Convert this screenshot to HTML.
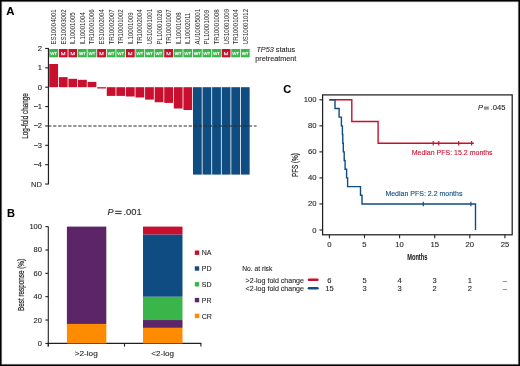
<!DOCTYPE html>
<html><head><meta charset="utf-8"><style>
html,body{margin:0;padding:0;background:#fff;}
body{width:520px;height:366px;overflow:hidden;position:relative;}
svg{position:absolute;left:0;top:0;display:block;will-change:transform;}
svg text{font-family:"Liberation Sans", sans-serif;}
</style></head><body>
<svg width="520" height="366" viewBox="0 0 520 366">
<rect x="0" y="0" width="520" height="366" fill="#fff"/>
<text x="6.30" y="15.00" font-size="11.4" text-anchor="start" fill="#000" stroke="#000" stroke-width="0.1" font-weight="bold" font-style="normal" >A</text>
<text transform="translate(56.16,44.6) rotate(-90) scale(0.915,1)" x="0" y="0" font-size="6.7" fill="#231F20">ES10004001</text>
<text transform="translate(65.74,44.6) rotate(-90) scale(0.915,1)" x="0" y="0" font-size="6.7" fill="#231F20">ES10003002</text>
<text transform="translate(75.32,44.6) rotate(-90) scale(0.915,1)" x="0" y="0" font-size="6.7" fill="#231F20">IL10001005</text>
<text transform="translate(84.90,44.6) rotate(-90) scale(0.915,1)" x="0" y="0" font-size="6.7" fill="#231F20">IL10001004</text>
<text transform="translate(94.48,44.6) rotate(-90) scale(0.915,1)" x="0" y="0" font-size="6.7" fill="#231F20">TR10001006</text>
<text transform="translate(104.06,44.6) rotate(-90) scale(0.915,1)" x="0" y="0" font-size="6.7" fill="#231F20">ES10002004</text>
<text transform="translate(113.64,44.6) rotate(-90) scale(0.915,1)" x="0" y="0" font-size="6.7" fill="#231F20">TR10002007</text>
<text transform="translate(123.22,44.6) rotate(-90) scale(0.915,1)" x="0" y="0" font-size="6.7" fill="#231F20">TR10001002</text>
<text transform="translate(132.80,44.6) rotate(-90) scale(0.915,1)" x="0" y="0" font-size="6.7" fill="#231F20">IL10001009</text>
<text transform="translate(142.38,44.6) rotate(-90) scale(0.915,1)" x="0" y="0" font-size="6.7" fill="#231F20">TR10002004</text>
<text transform="translate(151.96,44.6) rotate(-90) scale(0.915,1)" x="0" y="0" font-size="6.7" fill="#231F20">US10001001</text>
<text transform="translate(161.54,44.6) rotate(-90) scale(0.915,1)" x="0" y="0" font-size="6.7" fill="#231F20">PL10001026</text>
<text transform="translate(171.12,44.6) rotate(-90) scale(0.915,1)" x="0" y="0" font-size="6.7" fill="#231F20">TR10001007</text>
<text transform="translate(180.70,44.6) rotate(-90) scale(0.915,1)" x="0" y="0" font-size="6.7" fill="#231F20">IL10001008</text>
<text transform="translate(190.28,44.6) rotate(-90) scale(0.915,1)" x="0" y="0" font-size="6.7" fill="#231F20">IL10002011</text>
<text transform="translate(199.86,44.6) rotate(-90) scale(0.915,1)" x="0" y="0" font-size="6.7" fill="#231F20">AU10005001</text>
<text transform="translate(209.44,44.6) rotate(-90) scale(0.915,1)" x="0" y="0" font-size="6.7" fill="#231F20">PL10001009</text>
<text transform="translate(219.02,44.6) rotate(-90) scale(0.915,1)" x="0" y="0" font-size="6.7" fill="#231F20">TR10001008</text>
<text transform="translate(228.60,44.6) rotate(-90) scale(0.915,1)" x="0" y="0" font-size="6.7" fill="#231F20">US10001009</text>
<text transform="translate(238.18,44.6) rotate(-90) scale(0.915,1)" x="0" y="0" font-size="6.7" fill="#231F20">TR10001004</text>
<text transform="translate(247.76,44.6) rotate(-90) scale(0.915,1)" x="0" y="0" font-size="6.7" fill="#231F20">US10001012</text>
<rect x="49.27" y="49.00" width="8.78" height="8.30" fill="#3AB54A" />
<path d="M50.52,52.1 L51.37,55.1 L52.35,52.1 L53.32,55.1 L54.17,52.1 M54.42,52.4 L56.87,52.4 M55.65,52.4 L55.65,55.2" fill="none" stroke="#fff" stroke-width="0.8" stroke-linejoin="bevel"/>
<rect x="58.85" y="49.00" width="8.78" height="8.30" fill="#C8102E" />
<path d="M61.55,55.2 L61.55,52.0 L63.15,55.2 L64.75,52.0 L64.75,55.2" fill="none" stroke="#fff" stroke-width="0.8" stroke-linejoin="bevel"/>
<rect x="68.43" y="49.00" width="8.78" height="8.30" fill="#C8102E" />
<path d="M71.13,55.2 L71.13,52.0 L72.73,55.2 L74.33,52.0 L74.33,55.2" fill="none" stroke="#fff" stroke-width="0.8" stroke-linejoin="bevel"/>
<rect x="78.01" y="49.00" width="8.78" height="8.30" fill="#3AB54A" />
<path d="M79.26,52.1 L80.11,55.1 L81.09,52.1 L82.06,55.1 L82.91,52.1 M83.16,52.4 L85.61,52.4 M84.39,52.4 L84.39,55.2" fill="none" stroke="#fff" stroke-width="0.8" stroke-linejoin="bevel"/>
<rect x="87.59" y="49.00" width="8.78" height="8.30" fill="#3AB54A" />
<path d="M88.84,52.1 L89.69,55.1 L90.67,52.1 L91.64,55.1 L92.49,52.1 M92.74,52.4 L95.19,52.4 M93.97,52.4 L93.97,55.2" fill="none" stroke="#fff" stroke-width="0.8" stroke-linejoin="bevel"/>
<rect x="97.17" y="49.00" width="8.78" height="8.30" fill="#C8102E" />
<path d="M99.87,55.2 L99.87,52.0 L101.47,55.2 L103.07,52.0 L103.07,55.2" fill="none" stroke="#fff" stroke-width="0.8" stroke-linejoin="bevel"/>
<rect x="106.75" y="49.00" width="8.78" height="8.30" fill="#3AB54A" />
<path d="M108.00,52.1 L108.85,55.1 L109.83,52.1 L110.80,55.1 L111.65,52.1 M111.90,52.4 L114.35,52.4 M113.13,52.4 L113.13,55.2" fill="none" stroke="#fff" stroke-width="0.8" stroke-linejoin="bevel"/>
<rect x="116.33" y="49.00" width="8.78" height="8.30" fill="#3AB54A" />
<path d="M117.58,52.1 L118.43,55.1 L119.41,52.1 L120.38,55.1 L121.23,52.1 M121.48,52.4 L123.93,52.4 M122.71,52.4 L122.71,55.2" fill="none" stroke="#fff" stroke-width="0.8" stroke-linejoin="bevel"/>
<rect x="125.91" y="49.00" width="8.78" height="8.30" fill="#C8102E" />
<path d="M128.61,55.2 L128.61,52.0 L130.21,55.2 L131.81,52.0 L131.81,55.2" fill="none" stroke="#fff" stroke-width="0.8" stroke-linejoin="bevel"/>
<rect x="135.49" y="49.00" width="8.78" height="8.30" fill="#3AB54A" />
<path d="M136.74,52.1 L137.59,55.1 L138.57,52.1 L139.54,55.1 L140.39,52.1 M140.64,52.4 L143.09,52.4 M141.87,52.4 L141.87,55.2" fill="none" stroke="#fff" stroke-width="0.8" stroke-linejoin="bevel"/>
<rect x="145.07" y="49.00" width="8.78" height="8.30" fill="#3AB54A" />
<path d="M146.32,52.1 L147.17,55.1 L148.15,52.1 L149.12,55.1 L149.97,52.1 M150.22,52.4 L152.67,52.4 M151.45,52.4 L151.45,55.2" fill="none" stroke="#fff" stroke-width="0.8" stroke-linejoin="bevel"/>
<rect x="154.65" y="49.00" width="8.78" height="8.30" fill="#3AB54A" />
<path d="M155.90,52.1 L156.75,55.1 L157.73,52.1 L158.70,55.1 L159.55,52.1 M159.80,52.4 L162.25,52.4 M161.03,52.4 L161.03,55.2" fill="none" stroke="#fff" stroke-width="0.8" stroke-linejoin="bevel"/>
<rect x="164.23" y="49.00" width="8.78" height="8.30" fill="#C8102E" />
<path d="M166.93,55.2 L166.93,52.0 L168.53,55.2 L170.13,52.0 L170.13,55.2" fill="none" stroke="#fff" stroke-width="0.8" stroke-linejoin="bevel"/>
<rect x="173.81" y="49.00" width="8.78" height="8.30" fill="#3AB54A" />
<path d="M175.06,52.1 L175.91,55.1 L176.89,52.1 L177.86,55.1 L178.71,52.1 M178.96,52.4 L181.41,52.4 M180.19,52.4 L180.19,55.2" fill="none" stroke="#fff" stroke-width="0.8" stroke-linejoin="bevel"/>
<rect x="183.39" y="49.00" width="8.78" height="8.30" fill="#3AB54A" />
<path d="M184.64,52.1 L185.49,55.1 L186.47,52.1 L187.44,55.1 L188.29,52.1 M188.54,52.4 L190.99,52.4 M189.77,52.4 L189.77,55.2" fill="none" stroke="#fff" stroke-width="0.8" stroke-linejoin="bevel"/>
<rect x="192.97" y="49.00" width="8.78" height="8.30" fill="#3AB54A" />
<path d="M194.22,52.1 L195.07,55.1 L196.05,52.1 L197.02,55.1 L197.87,52.1 M198.12,52.4 L200.57,52.4 M199.35,52.4 L199.35,55.2" fill="none" stroke="#fff" stroke-width="0.8" stroke-linejoin="bevel"/>
<rect x="202.55" y="49.00" width="8.78" height="8.30" fill="#3AB54A" />
<path d="M203.80,52.1 L204.65,55.1 L205.63,52.1 L206.60,55.1 L207.45,52.1 M207.70,52.4 L210.15,52.4 M208.93,52.4 L208.93,55.2" fill="none" stroke="#fff" stroke-width="0.8" stroke-linejoin="bevel"/>
<rect x="212.13" y="49.00" width="8.78" height="8.30" fill="#3AB54A" />
<path d="M213.38,52.1 L214.23,55.1 L215.21,52.1 L216.18,55.1 L217.03,52.1 M217.28,52.4 L219.73,52.4 M218.51,52.4 L218.51,55.2" fill="none" stroke="#fff" stroke-width="0.8" stroke-linejoin="bevel"/>
<rect x="221.71" y="49.00" width="8.78" height="8.30" fill="#C8102E" />
<path d="M224.41,55.2 L224.41,52.0 L226.01,55.2 L227.61,52.0 L227.61,55.2" fill="none" stroke="#fff" stroke-width="0.8" stroke-linejoin="bevel"/>
<rect x="231.29" y="49.00" width="8.78" height="8.30" fill="#3AB54A" />
<path d="M232.54,52.1 L233.39,55.1 L234.37,52.1 L235.34,55.1 L236.19,52.1 M236.44,52.4 L238.89,52.4 M237.67,52.4 L237.67,55.2" fill="none" stroke="#fff" stroke-width="0.8" stroke-linejoin="bevel"/>
<rect x="240.87" y="49.00" width="8.78" height="8.30" fill="#3AB54A" />
<path d="M242.12,52.1 L242.97,55.1 L243.95,52.1 L244.92,55.1 L245.77,52.1 M246.02,52.4 L248.47,52.4 M247.25,52.4 L247.25,55.2" fill="none" stroke="#fff" stroke-width="0.8" stroke-linejoin="bevel"/>
<rect x="49.27" y="64.00" width="8.78" height="23.20" fill="#C8102E" />
<rect x="58.85" y="77.10" width="8.78" height="10.10" fill="#C8102E" />
<rect x="68.43" y="78.80" width="8.78" height="8.40" fill="#C8102E" />
<rect x="78.01" y="79.80" width="8.78" height="7.40" fill="#C8102E" />
<rect x="87.59" y="81.90" width="8.78" height="5.30" fill="#C8102E" />
<rect x="97.17" y="87.20" width="8.78" height="1.30" fill="#C8102E" />
<rect x="106.75" y="87.20" width="8.78" height="8.70" fill="#C8102E" />
<rect x="116.33" y="87.20" width="8.78" height="8.70" fill="#C8102E" />
<rect x="125.91" y="87.20" width="8.78" height="9.30" fill="#C8102E" />
<rect x="135.49" y="87.20" width="8.78" height="10.30" fill="#C8102E" />
<rect x="145.07" y="87.20" width="8.78" height="12.40" fill="#C8102E" />
<rect x="154.65" y="87.20" width="8.78" height="15.05" fill="#C8102E" />
<rect x="164.23" y="87.20" width="8.78" height="15.70" fill="#C8102E" />
<rect x="173.81" y="87.20" width="8.78" height="21.30" fill="#C8102E" />
<rect x="183.39" y="87.20" width="8.78" height="22.80" fill="#C8102E" />
<rect x="192.97" y="87.20" width="8.78" height="87.40" fill="#0F4C81" />
<rect x="202.55" y="87.20" width="8.78" height="87.40" fill="#0F4C81" />
<rect x="212.13" y="87.20" width="8.78" height="87.40" fill="#0F4C81" />
<rect x="221.71" y="87.20" width="8.78" height="87.40" fill="#0F4C81" />
<rect x="231.29" y="87.20" width="8.78" height="87.40" fill="#0F4C81" />
<rect x="240.87" y="87.20" width="8.78" height="87.40" fill="#0F4C81" />
<line x1="48.45" y1="48.40" x2="48.45" y2="184.00" stroke="#231F20" stroke-width="1.2" />
<line x1="45.20" y1="48.46" x2="48.90" y2="48.46" stroke="#231F20" stroke-width="1.1" />
<text transform="translate(42.00,50.96) scale(1.08,1)" x="0" y="0" font-size="7" text-anchor="end" fill="#231F20" stroke="#231F20" stroke-width="0.1" font-weight="normal" font-style="normal" >2</text>
<line x1="45.20" y1="67.83" x2="48.90" y2="67.83" stroke="#231F20" stroke-width="1.1" />
<text transform="translate(42.00,70.33) scale(1.08,1)" x="0" y="0" font-size="7" text-anchor="end" fill="#231F20" stroke="#231F20" stroke-width="0.1" font-weight="normal" font-style="normal" >1</text>
<line x1="45.20" y1="87.20" x2="48.90" y2="87.20" stroke="#231F20" stroke-width="1.1" />
<text transform="translate(42.00,89.70) scale(1.08,1)" x="0" y="0" font-size="7" text-anchor="end" fill="#231F20" stroke="#231F20" stroke-width="0.1" font-weight="normal" font-style="normal" >0</text>
<line x1="45.20" y1="106.57" x2="48.90" y2="106.57" stroke="#231F20" stroke-width="1.1" />
<text transform="translate(42.00,109.07) scale(1.08,1)" x="0" y="0" font-size="7" text-anchor="end" fill="#231F20" stroke="#231F20" stroke-width="0.1" font-weight="normal" font-style="normal" >−1</text>
<line x1="45.20" y1="125.94" x2="48.90" y2="125.94" stroke="#231F20" stroke-width="1.1" />
<text transform="translate(42.00,128.44) scale(1.08,1)" x="0" y="0" font-size="7" text-anchor="end" fill="#231F20" stroke="#231F20" stroke-width="0.1" font-weight="normal" font-style="normal" >−2</text>
<line x1="45.20" y1="145.31" x2="48.90" y2="145.31" stroke="#231F20" stroke-width="1.1" />
<text transform="translate(42.00,147.81) scale(1.08,1)" x="0" y="0" font-size="7" text-anchor="end" fill="#231F20" stroke="#231F20" stroke-width="0.1" font-weight="normal" font-style="normal" >−3</text>
<line x1="45.20" y1="164.68" x2="48.90" y2="164.68" stroke="#231F20" stroke-width="1.1" />
<text transform="translate(42.00,167.18) scale(1.08,1)" x="0" y="0" font-size="7" text-anchor="end" fill="#231F20" stroke="#231F20" stroke-width="0.1" font-weight="normal" font-style="normal" >−4</text>
<line x1="45.20" y1="184.05" x2="48.90" y2="184.05" stroke="#231F20" stroke-width="1.1" />
<text transform="translate(42.00,186.55) scale(1.08,1)" x="0" y="0" font-size="7" text-anchor="end" fill="#231F20" stroke="#231F20" stroke-width="0.1" font-weight="normal" font-style="normal" >ND</text>
<line x1="48.10" y1="126.00" x2="256.60" y2="126.00" stroke="#2a2a2a" stroke-width="1.2" stroke-dasharray="3.3 1.72"/>
<text transform="translate(27.90,115.95) rotate(-90)" x="0" y="0" font-size="9" text-anchor="middle" fill="#231F20" stroke="#231F20" stroke-width="0.22" textLength="45.5" lengthAdjust="spacingAndGlyphs">Log-fold change</text>
<text transform="translate(275.8,51.75) scale(0.97,1)" x="0" y="0" font-size="7.5" text-anchor="middle" fill="#231F20" stroke="#231F20" stroke-width="0.1"><tspan font-style="italic">TP53</tspan> status</text>
<text x="275.80" y="60.70" font-size="7.25" text-anchor="middle" fill="#231F20" stroke="#231F20" stroke-width="0.1" font-weight="normal" font-style="normal" >pretreatment</text>
<text x="7.00" y="217.00" font-size="11" text-anchor="start" fill="#000" stroke="#000" stroke-width="0.1" font-weight="bold" font-style="normal" >B</text>
<text x="107.5" y="214.9" font-size="9" font-style="italic" fill="#231F20" stroke="#231F20" stroke-width="0.1">P</text>
<line x1="115.20" y1="211.30" x2="121.60" y2="211.30" stroke="#231F20" stroke-width="0.95" />
<line x1="115.20" y1="213.60" x2="121.60" y2="213.60" stroke="#231F20" stroke-width="0.95" />
<text transform="translate(123.40,214.90) scale(1.05,1)" x="0" y="0" font-size="9" text-anchor="start" fill="#231F20" stroke="#231F20" stroke-width="0.1" font-weight="normal" font-style="normal" >.001</text>
<line x1="48.30" y1="226.60" x2="48.30" y2="346.60" stroke="#231F20" stroke-width="1.1" />
<line x1="45.40" y1="343.40" x2="48.30" y2="343.40" stroke="#231F20" stroke-width="1.1" />
<text transform="translate(42.00,345.90) scale(1.08,1)" x="0" y="0" font-size="7" text-anchor="end" fill="#231F20" stroke="#231F20" stroke-width="0.1" font-weight="normal" font-style="normal" >0</text>
<line x1="45.40" y1="320.04" x2="48.30" y2="320.04" stroke="#231F20" stroke-width="1.1" />
<text transform="translate(42.00,322.54) scale(1.08,1)" x="0" y="0" font-size="7" text-anchor="end" fill="#231F20" stroke="#231F20" stroke-width="0.1" font-weight="normal" font-style="normal" >20</text>
<line x1="45.40" y1="296.68" x2="48.30" y2="296.68" stroke="#231F20" stroke-width="1.1" />
<text transform="translate(42.00,299.18) scale(1.08,1)" x="0" y="0" font-size="7" text-anchor="end" fill="#231F20" stroke="#231F20" stroke-width="0.1" font-weight="normal" font-style="normal" >40</text>
<line x1="45.40" y1="273.32" x2="48.30" y2="273.32" stroke="#231F20" stroke-width="1.1" />
<text transform="translate(42.00,275.82) scale(1.08,1)" x="0" y="0" font-size="7" text-anchor="end" fill="#231F20" stroke="#231F20" stroke-width="0.1" font-weight="normal" font-style="normal" >60</text>
<line x1="45.40" y1="249.96" x2="48.30" y2="249.96" stroke="#231F20" stroke-width="1.1" />
<text transform="translate(42.00,252.46) scale(1.08,1)" x="0" y="0" font-size="7" text-anchor="end" fill="#231F20" stroke="#231F20" stroke-width="0.1" font-weight="normal" font-style="normal" >80</text>
<line x1="45.40" y1="226.60" x2="48.30" y2="226.60" stroke="#231F20" stroke-width="1.1" />
<text transform="translate(42.00,229.10) scale(1.08,1)" x="0" y="0" font-size="7" text-anchor="end" fill="#231F20" stroke="#231F20" stroke-width="0.1" font-weight="normal" font-style="normal" >100</text>
<line x1="47.80" y1="343.40" x2="201.40" y2="343.40" stroke="#231F20" stroke-width="1.1" />
<line x1="48.30" y1="343.40" x2="48.30" y2="346.60" stroke="#231F20" stroke-width="1.1" />
<line x1="124.50" y1="343.40" x2="124.50" y2="346.60" stroke="#231F20" stroke-width="1.1" />
<line x1="200.90" y1="343.40" x2="200.90" y2="346.60" stroke="#231F20" stroke-width="1.1" />
<text transform="translate(24.10,285.00) rotate(-90)" x="0" y="0" font-size="9" text-anchor="middle" fill="#231F20" stroke="#231F20" stroke-width="0.22" textLength="52" lengthAdjust="spacingAndGlyphs">Best response (%)</text>
<rect x="66.90" y="323.93" width="39.40" height="19.47" fill="#FF8C00" />
<rect x="66.90" y="226.60" width="39.40" height="97.33" fill="#5B2568" />
<rect x="143.00" y="327.83" width="39.50" height="15.57" fill="#FF8C00" />
<rect x="143.00" y="320.04" width="39.50" height="7.79" fill="#5B2568" />
<rect x="143.00" y="296.68" width="39.50" height="23.36" fill="#3AB54A" />
<rect x="143.00" y="234.39" width="39.50" height="62.29" fill="#0F4C81" />
<rect x="143.00" y="226.60" width="39.50" height="7.79" fill="#C8102E" />
<text transform="translate(86.20,356.00) scale(1.08,1)" x="0" y="0" font-size="7.6" text-anchor="middle" fill="#231F20" stroke="#231F20" stroke-width="0.1" font-weight="normal" font-style="normal" >&gt;2-log</text>
<text transform="translate(162.60,356.00) scale(1.06,1)" x="0" y="0" font-size="7.6" text-anchor="middle" fill="#231F20" stroke="#231F20" stroke-width="0.1" font-weight="normal" font-style="normal" >&lt;2-log</text>
<rect x="194.80" y="250.50" width="4.40" height="4.40" fill="#C8102E" />
<text x="201.80" y="255.30" font-size="7" text-anchor="start" fill="#231F20" stroke="#231F20" stroke-width="0.1" font-weight="normal" font-style="normal" >NA</text>
<rect x="194.80" y="266.30" width="4.40" height="4.40" fill="#0F4C81" />
<text x="201.80" y="271.10" font-size="7" text-anchor="start" fill="#231F20" stroke="#231F20" stroke-width="0.1" font-weight="normal" font-style="normal" >PD</text>
<rect x="194.80" y="282.10" width="4.40" height="4.40" fill="#3AB54A" />
<text x="201.80" y="286.90" font-size="7" text-anchor="start" fill="#231F20" stroke="#231F20" stroke-width="0.1" font-weight="normal" font-style="normal" >SD</text>
<rect x="194.80" y="297.90" width="4.40" height="4.40" fill="#5B2568" />
<text x="201.80" y="302.70" font-size="7" text-anchor="start" fill="#231F20" stroke="#231F20" stroke-width="0.1" font-weight="normal" font-style="normal" >PR</text>
<rect x="194.80" y="313.70" width="4.40" height="4.40" fill="#FF8C00" />
<text x="201.80" y="318.50" font-size="7" text-anchor="start" fill="#231F20" stroke="#231F20" stroke-width="0.1" font-weight="normal" font-style="normal" >CR</text>
<text x="283.20" y="92.90" font-size="11" text-anchor="start" fill="#000" stroke="#000" stroke-width="0.1" font-weight="bold" font-style="normal" >C</text>
<rect x="322.6" y="94.9" width="189.6" height="139.9" fill="none" stroke="#231F20" stroke-width="1.25"/>
<line x1="319.40" y1="230.00" x2="322.50" y2="230.00" stroke="#231F20" stroke-width="1.1" />
<text transform="translate(316.50,232.50) scale(1.1,1)" x="0" y="0" font-size="7" text-anchor="end" fill="#231F20" stroke="#231F20" stroke-width="0.1" font-weight="normal" font-style="normal" >0</text>
<line x1="319.40" y1="203.96" x2="322.50" y2="203.96" stroke="#231F20" stroke-width="1.1" />
<text transform="translate(316.50,206.46) scale(1.1,1)" x="0" y="0" font-size="7" text-anchor="end" fill="#231F20" stroke="#231F20" stroke-width="0.1" font-weight="normal" font-style="normal" >20</text>
<line x1="319.40" y1="177.92" x2="322.50" y2="177.92" stroke="#231F20" stroke-width="1.1" />
<text transform="translate(316.50,180.42) scale(1.1,1)" x="0" y="0" font-size="7" text-anchor="end" fill="#231F20" stroke="#231F20" stroke-width="0.1" font-weight="normal" font-style="normal" >40</text>
<line x1="319.40" y1="151.88" x2="322.50" y2="151.88" stroke="#231F20" stroke-width="1.1" />
<text transform="translate(316.50,154.38) scale(1.1,1)" x="0" y="0" font-size="7" text-anchor="end" fill="#231F20" stroke="#231F20" stroke-width="0.1" font-weight="normal" font-style="normal" >60</text>
<line x1="319.40" y1="125.84" x2="322.50" y2="125.84" stroke="#231F20" stroke-width="1.1" />
<text transform="translate(316.50,128.34) scale(1.1,1)" x="0" y="0" font-size="7" text-anchor="end" fill="#231F20" stroke="#231F20" stroke-width="0.1" font-weight="normal" font-style="normal" >80</text>
<line x1="319.40" y1="99.80" x2="322.50" y2="99.80" stroke="#231F20" stroke-width="1.1" />
<text transform="translate(316.50,102.30) scale(1.1,1)" x="0" y="0" font-size="7" text-anchor="end" fill="#231F20" stroke="#231F20" stroke-width="0.1" font-weight="normal" font-style="normal" >100</text>
<line x1="329.40" y1="234.75" x2="329.40" y2="238.20" stroke="#231F20" stroke-width="1.1" />
<text transform="translate(329.40,246.90) scale(1.1,1)" x="0" y="0" font-size="7" text-anchor="middle" fill="#231F20" stroke="#231F20" stroke-width="0.1" font-weight="normal" font-style="normal" >0</text>
<line x1="364.50" y1="234.75" x2="364.50" y2="238.20" stroke="#231F20" stroke-width="1.1" />
<text transform="translate(364.50,246.90) scale(1.1,1)" x="0" y="0" font-size="7" text-anchor="middle" fill="#231F20" stroke="#231F20" stroke-width="0.1" font-weight="normal" font-style="normal" >5</text>
<line x1="399.60" y1="234.75" x2="399.60" y2="238.20" stroke="#231F20" stroke-width="1.1" />
<text transform="translate(399.60,246.90) scale(1.1,1)" x="0" y="0" font-size="7" text-anchor="middle" fill="#231F20" stroke="#231F20" stroke-width="0.1" font-weight="normal" font-style="normal" >10</text>
<line x1="434.70" y1="234.75" x2="434.70" y2="238.20" stroke="#231F20" stroke-width="1.1" />
<text transform="translate(434.70,246.90) scale(1.1,1)" x="0" y="0" font-size="7" text-anchor="middle" fill="#231F20" stroke="#231F20" stroke-width="0.1" font-weight="normal" font-style="normal" >15</text>
<line x1="469.80" y1="234.75" x2="469.80" y2="238.20" stroke="#231F20" stroke-width="1.1" />
<text transform="translate(469.80,246.90) scale(1.1,1)" x="0" y="0" font-size="7" text-anchor="middle" fill="#231F20" stroke="#231F20" stroke-width="0.1" font-weight="normal" font-style="normal" >20</text>
<line x1="504.90" y1="234.75" x2="504.90" y2="238.20" stroke="#231F20" stroke-width="1.1" />
<text transform="translate(504.90,246.90) scale(1.1,1)" x="0" y="0" font-size="7" text-anchor="middle" fill="#231F20" stroke="#231F20" stroke-width="0.1" font-weight="normal" font-style="normal" >25</text>
<text x="417.30" y="259.80" font-size="9.2" text-anchor="middle" fill="#231F20" stroke="#231F20" stroke-width="0.1" font-weight="bold" font-style="normal" textLength="20.3" lengthAdjust="spacingAndGlyphs" >Months</text>
<text transform="translate(297.70,165.10) rotate(-90)" x="0" y="0" font-size="9" text-anchor="middle" fill="#231F20" stroke="#231F20" stroke-width="0.22" textLength="23.8" lengthAdjust="spacingAndGlyphs">PFS (%)</text>
<text x="477.9" y="109.8" font-size="7.5" font-style="italic" fill="#231F20" stroke="#231F20" stroke-width="0.1">P</text>
<line x1="484.00" y1="107.20" x2="488.80" y2="107.20" stroke="#231F20" stroke-width="0.8" />
<line x1="484.00" y1="108.95" x2="488.80" y2="108.95" stroke="#231F20" stroke-width="0.8" />
<text transform="translate(490.60,109.80) scale(1.02,1)" x="0" y="0" font-size="7.5" text-anchor="start" fill="#231F20" stroke="#231F20" stroke-width="0.1" font-weight="normal" font-style="normal" >.045</text>
<polyline fill="none" stroke="#C8102E" stroke-width="1.4" points="329.40,99.80 351.80,99.80 351.80,121.50 378.10,121.50 378.10,143.20 473.80,143.20"/>
<line x1="433.25" y1="140.90" x2="433.25" y2="145.50" stroke="#C8102E" stroke-width="1.15" />
<line x1="438.75" y1="140.90" x2="438.75" y2="145.50" stroke="#C8102E" stroke-width="1.15" />
<line x1="458.65" y1="140.90" x2="458.65" y2="145.50" stroke="#C8102E" stroke-width="1.15" />
<line x1="471.60" y1="140.90" x2="471.60" y2="145.50" stroke="#C8102E" stroke-width="1.15" />
<polyline fill="none" stroke="#0F4C81" stroke-width="1.4" points="329.30,99.80 335.00,99.80 335.00,108.48 339.10,108.48 339.10,117.16 341.40,117.16 341.40,125.84 342.40,125.84 342.40,134.52 342.80,134.52 342.80,143.20 343.30,143.20 343.30,151.88 344.20,151.88 344.20,160.56 345.10,160.56 345.10,169.24 346.60,169.24 346.60,177.92 347.60,177.92 347.60,186.60 360.50,186.60 360.50,195.28 362.00,195.28 362.00,203.96 475.50,203.96 475.50,230.00"/>
<line x1="423.30" y1="201.66" x2="423.30" y2="206.26" stroke="#0F4C81" stroke-width="1.15" />
<line x1="470.90" y1="201.66" x2="470.90" y2="206.26" stroke="#0F4C81" stroke-width="1.15" />
<text x="411.70" y="155.40" font-size="7" text-anchor="start" fill="#C8102E" stroke="#C8102E" stroke-width="0.1" font-weight="normal" font-style="normal" >Median PFS: 15.2 months</text>
<text x="385.40" y="196.30" font-size="7" text-anchor="start" fill="#0F4C81" stroke="#0F4C81" stroke-width="0.1" font-weight="normal" font-style="normal" >Median PFS: 2.2 months</text>
<text transform="translate(242.30,270.80) scale(0.94,1)" x="0" y="0" font-size="7.1" text-anchor="start" fill="#231F20" stroke="#231F20" stroke-width="0.1" font-weight="normal" font-style="normal" >No. at risk</text>
<text x="245.60" y="282.80" font-size="7" text-anchor="start" fill="#231F20" stroke="#231F20" stroke-width="0.1" font-weight="normal" font-style="normal" textLength="58.4" lengthAdjust="spacingAndGlyphs" >&gt;2-log fold change</text>
<text x="245.60" y="290.90" font-size="7" text-anchor="start" fill="#231F20" stroke="#231F20" stroke-width="0.1" font-weight="normal" font-style="normal" textLength="58.4" lengthAdjust="spacingAndGlyphs" >&lt;2-log fold change</text>
<line x1="309.00" y1="279.80" x2="317.40" y2="279.80" stroke="#C8102E" stroke-width="2.6" stroke-linecap="round"/>
<line x1="309.00" y1="288.20" x2="317.40" y2="288.20" stroke="#0F4C81" stroke-width="2.6" stroke-linecap="round"/>
<text transform="translate(329.40,282.80) scale(1.08,1)" x="0" y="0" font-size="7" text-anchor="middle" fill="#231F20" stroke="#231F20" stroke-width="0.1" font-weight="normal" font-style="normal" >6</text>
<text transform="translate(329.40,291.20) scale(1.08,1)" x="0" y="0" font-size="7" text-anchor="middle" fill="#231F20" stroke="#231F20" stroke-width="0.1" font-weight="normal" font-style="normal" >15</text>
<text transform="translate(364.50,282.80) scale(1.08,1)" x="0" y="0" font-size="7" text-anchor="middle" fill="#231F20" stroke="#231F20" stroke-width="0.1" font-weight="normal" font-style="normal" >5</text>
<text transform="translate(364.50,291.20) scale(1.08,1)" x="0" y="0" font-size="7" text-anchor="middle" fill="#231F20" stroke="#231F20" stroke-width="0.1" font-weight="normal" font-style="normal" >3</text>
<text transform="translate(399.60,282.80) scale(1.08,1)" x="0" y="0" font-size="7" text-anchor="middle" fill="#231F20" stroke="#231F20" stroke-width="0.1" font-weight="normal" font-style="normal" >4</text>
<text transform="translate(399.60,291.20) scale(1.08,1)" x="0" y="0" font-size="7" text-anchor="middle" fill="#231F20" stroke="#231F20" stroke-width="0.1" font-weight="normal" font-style="normal" >3</text>
<text transform="translate(434.70,282.80) scale(1.08,1)" x="0" y="0" font-size="7" text-anchor="middle" fill="#231F20" stroke="#231F20" stroke-width="0.1" font-weight="normal" font-style="normal" >3</text>
<text transform="translate(434.70,291.20) scale(1.08,1)" x="0" y="0" font-size="7" text-anchor="middle" fill="#231F20" stroke="#231F20" stroke-width="0.1" font-weight="normal" font-style="normal" >2</text>
<text transform="translate(469.80,282.80) scale(1.08,1)" x="0" y="0" font-size="7" text-anchor="middle" fill="#231F20" stroke="#231F20" stroke-width="0.1" font-weight="normal" font-style="normal" >1</text>
<text transform="translate(469.80,291.20) scale(1.08,1)" x="0" y="0" font-size="7" text-anchor="middle" fill="#231F20" stroke="#231F20" stroke-width="0.1" font-weight="normal" font-style="normal" >2</text>
<text transform="translate(504.90,282.80) scale(1.08,1)" x="0" y="0" font-size="7" text-anchor="middle" fill="#231F20" stroke="#231F20" stroke-width="0.1" font-weight="normal" font-style="normal" >–</text>
<text transform="translate(504.90,291.20) scale(1.08,1)" x="0" y="0" font-size="7" text-anchor="middle" fill="#231F20" stroke="#231F20" stroke-width="0.1" font-weight="normal" font-style="normal" >–</text>
<rect x="0.8" y="0.8" width="518.4" height="364.4" fill="none" stroke="#000" stroke-width="1.6"/>
<rect x="2.1" y="2.1" width="515.8" height="361.8" fill="none" stroke="#000" stroke-opacity="0.09" stroke-width="1"/>
</svg>
</body></html>
